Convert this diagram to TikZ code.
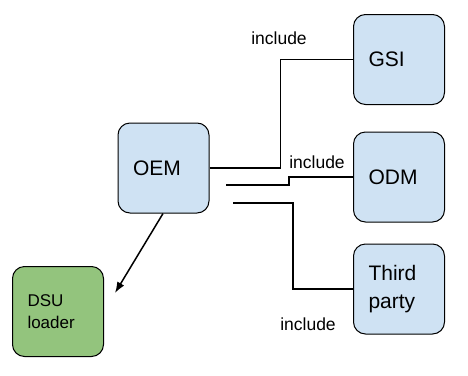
\documentclass[tikz,border=0pt]{standalone}
\usepackage{fontspec}
\setmainfont{Liberation Sans}
\usetikzlibrary{arrows.meta}

\definecolor{boxblue}{HTML}{CFE2F3}
\definecolor{boxgreen}{HTML}{93C47D}

\begin{document}
\begin{tikzpicture}[
  x=1pt, y=-1pt,
  part/.style = {draw, line width=1pt, rounded corners=12pt, fill=boxblue,
                 minimum width=91pt, minimum height=90pt, inner xsep=15pt,
                 text width=61pt, align=left, font=\fontsize{21}{28}\selectfont},
  loaderbox/.style = {part, fill=boxgreen, font=\fontsize{17}{22}\selectfont},
  wire/.style = {line width=1.5pt},
  tag/.style = {font=\fontsize{17.5}{20}\selectfont, inner sep=0pt}
]
\useasboundingbox (0,0) rectangle (468,375);

\node[part] (OEM) at (163.5,168) {OEM};
\node[part] (GSI) at (399,59.5) {GSI};
\node[part] (ODM) at (399,177) {ODM};
\node[part] (Third) at (399,289) {Third\\party};
\node[loaderbox] (DSU) at (58,311.5) {DSU\\loader};

\coordinate (odmfoot) at (226,185);
\coordinate (thirdfoot) at (233,203);
\coordinate (dsutip) at (115,293);

\draw[wire] (OEM.east) -- ++(71,0) |- (GSI.west);
\draw[wire] (odmfoot) -- ++(63,0) -- ++(0,-8) -- (ODM.west);
\draw[wire] (thirdfoot) -- ++(60,0) |- (Third.west);
\draw[wire, -{Latex[length=11pt,width=8pt]}] (OEM.south) ++(-0.5,0) -- (dsutip);

\node[tag] (incGSI) at (279,38) {include};
\node[tag] (incODM) at (317,162) {include};
\node[tag] (incThird) at (308,324) {include};
\end{tikzpicture}
\end{document}
